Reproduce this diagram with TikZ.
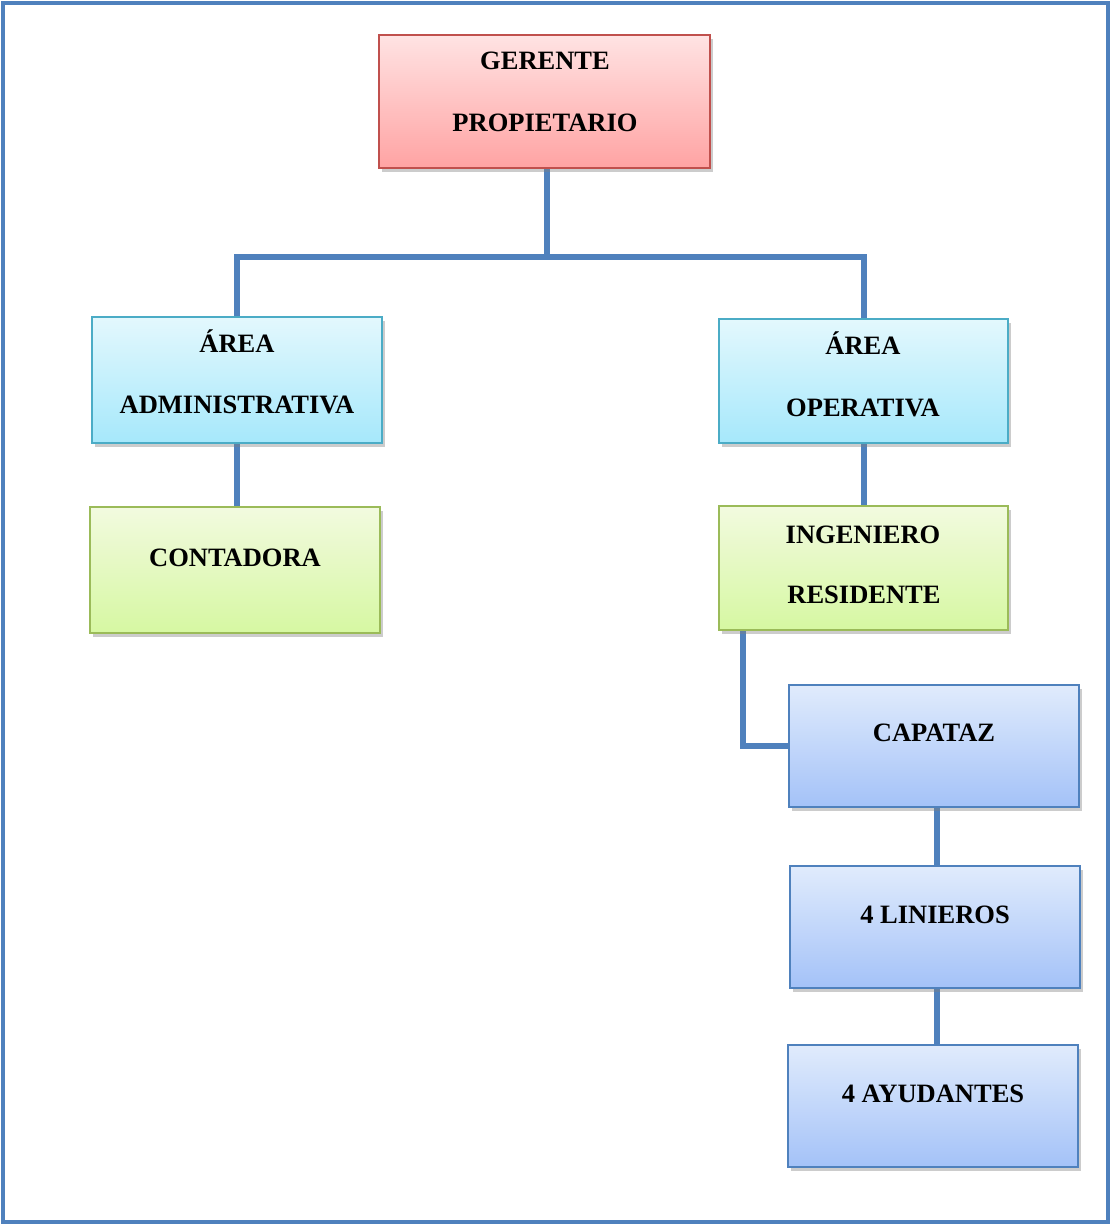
\documentclass[tikz,border=0pt]{standalone}
\usepackage{fontspec}
\setmainfont{Liberation Serif}
\usetikzlibrary{shadows}
\definecolor{lineblue}{HTML}{4F81BD}
\definecolor{redb}{HTML}{C0504D}
\definecolor{redt}{HTML}{FFE3E3}
\definecolor{redbot}{HTML}{FFA3A3}
\definecolor{cyanb}{HTML}{4BACC6}
\definecolor{cyant}{HTML}{E3F8FD}
\definecolor{cyanbot}{HTML}{A6E8FB}
\definecolor{greenb}{HTML}{9BBB59}
\definecolor{greent}{HTML}{F2FADF}
\definecolor{greenbot}{HTML}{D6F8A2}
\definecolor{bluet}{HTML}{E0EBFC}
\definecolor{bluebot}{HTML}{A4C2F8}
\begin{document}
\begin{tikzpicture}[x=1pt,y=-1pt,
  box/.style={draw, line width=1.8pt, inner sep=0pt, minimum width=290pt, minimum height=124pt,
    drop shadow={shadow xshift=2.5pt, shadow yshift=-4pt, opacity=0.4}},
  redbox/.style={box, draw=redb, top color=redt, bottom color=redbot},
  cyanbox/.style={box, draw=cyanb, top color=cyant, bottom color=cyanbot},
  greenbox/.style={box, draw=greenb, top color=greent, bottom color=greenbot},
  bluebox/.style={box, draw=lineblue, top color=bluet, bottom color=bluebot},
  conn/.style={draw=lineblue, line width=6pt},
  lbl/.style={anchor=base, inner sep=0pt, font=\fontsize{26.5}{30}\selectfont\bfseries}]
\useasboundingbox (0,0) rectangle (1111,1225);
\draw[lineblue, line width=4.5pt] (3,3) rectangle (1108,1222);

% node positions
\coordinate (pg) at (544.5,101.5);
\coordinate (pad) at (237,380);
\coordinate (pop) at (863.5,381);
\coordinate (pco) at (235,570);
\coordinate (pin) at (863.5,568);
\coordinate (pca) at (934,746);
\coordinate (pli) at (935,927);
\coordinate (pay) at (933,1106);

% invisible placeholders for connector geometry
\node[minimum width=331pt, minimum height=133pt, inner sep=0pt] (g) at (pg) {};
\node[minimum width=290pt, minimum height=126pt, inner sep=0pt] (ad) at (pad) {};
\node[minimum width=289pt, minimum height=124pt, inner sep=0pt] (op) at (pop) {};
\node[minimum width=290pt, minimum height=126pt, inner sep=0pt] (co) at (pco) {};
\node[minimum width=289pt, minimum height=124pt, inner sep=0pt] (in) at (pin) {};
\node[minimum width=290pt, minimum height=122pt, inner sep=0pt] (ca) at (pca) {};
\node[minimum width=290pt, minimum height=122pt, inner sep=0pt] (li) at (pli) {};
\node[minimum width=290pt, minimum height=122pt, inner sep=0pt] (ay) at (pay) {};

\coordinate (j) at (547,257);
\coordinate (ia) at ([xshift=24pt]in.south west);
\coordinate (cs) at ([xshift=3pt]ca.south);
\coordinate (ls) at ([xshift=2pt]li.south);

% connectors
\draw[conn] (g.south -| j) -- (j);
\draw[conn] (ad.north) -- (ad.north |- j) -| (op.north);
\draw[conn] (ad.south) -- (ad.south |- co.north);
\draw[conn] (op.south) -- (op.south |- in.north);
\draw[conn] (ia) |- (ca.west);
\draw[conn] (cs) -- (cs |- li.north);
\draw[conn] (ls) -- (ls |- ay.north);

% boxes
\node[redbox, minimum width=331pt, minimum height=133pt] (gb) at (pg) {};
\node[cyanbox, minimum height=126pt] (adb) at (pad) {};
\node[cyanbox, minimum width=289pt] (opb) at (pop) {};
\node[greenbox, minimum height=126pt] (cob) at (pco) {};
\node[greenbox, minimum width=289pt] (inb) at (pin) {};
\node[bluebox, minimum height=122pt] (cab) at (pca) {};
\node[bluebox, minimum height=122pt] (lib) at (pli) {};
\node[bluebox, minimum height=122pt] (ayb) at (pay) {};

% labels
\node[lbl] (t1) at (545,70) {GERENTE};
\node[lbl] (t2) at (545,132) {PROPIETARIO};
\node[lbl] (t3) at (237,352) {ÁREA};
\node[lbl] (t4) at (237,413) {ADMINISTRATIVA};
\node[lbl] (t5) at (863,354) {ÁREA};
\node[lbl] (t6) at (863,416) {OPERATIVA};
\node[lbl] (t7) at (235,566) {CONTADORA};
\node[lbl] (t8) at (863,543) {INGENIERO};
\node[lbl] (t9) at (864,603) {RESIDENTE};
\node[lbl] (t10) at (934,741) {CAPATAZ};
\node[lbl] (t11) at (935,923) {4 LINIEROS};
\node[lbl] (t12) at (933,1102) {4 AYUDANTES};
\end{tikzpicture}
\end{document}
